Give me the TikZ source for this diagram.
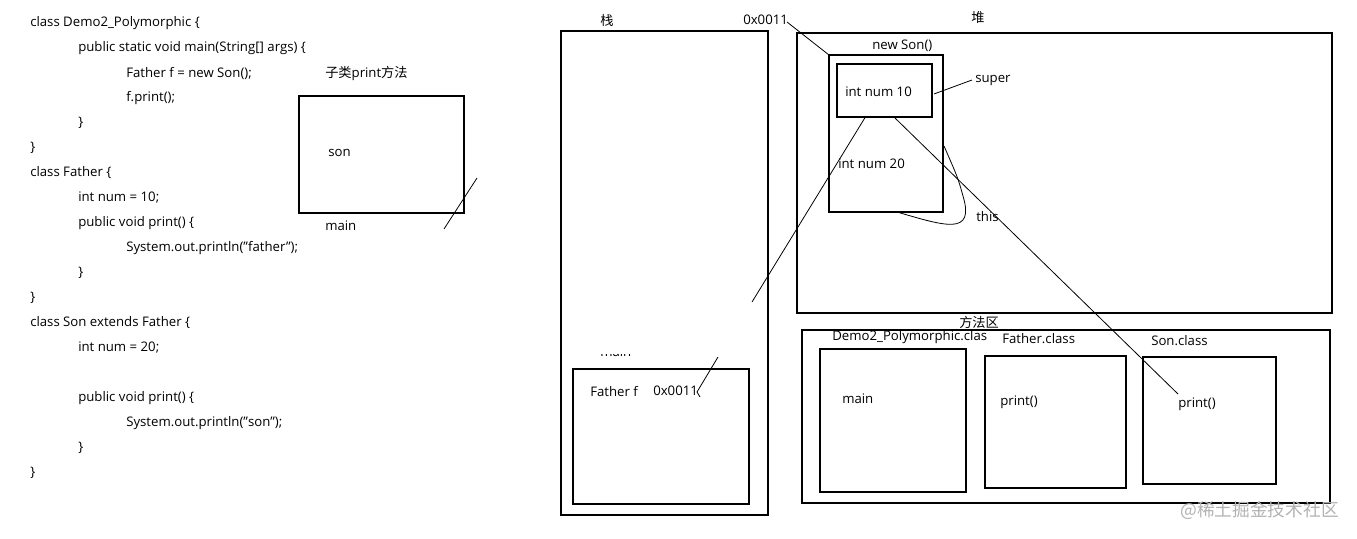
\documentclass[tikz,border=0pt]{standalone}
\usepackage{fontspec}
\setmainfont{Open Sans}[Ligatures=ResetAll]
\newfontfamily\cjk{Noto Sans CJK SC}
\begin{document}
\begin{tikzpicture}[x=0.75pt,y=-0.75pt,
  txt/.style={anchor=west,inner sep=0pt,font=\fontsize{9.9}{11}\selectfont},
  box/.style={draw,line width=0.8pt},
  wire/.style={draw,line width=0.6pt}]
\useasboundingbox (0,0) rectangle (1357,539);

% ---- code listing ----
\node[txt] (c1)  at (30,23)  {class Demo2\_Polymorphic \{};
\node[txt] (c2)  at (78,48)  {public static void main(String[] args) \{};
\node[txt] (c3)  at (126,73) {Father f = new Son();};
\node[txt] (c4)  at (126,98) {f.print();};
\node[txt] (c5)  at (78,123) {\}};
\node[txt] (c6)  at (30,148) {\}};
\node[txt] (c7)  at (30,173) {class Father \{};
\node[txt] (c8)  at (78,198) {int num = 10;};
\node[txt] (c9)  at (78,223) {public void print() \{};
\node[txt] (c10) at (126,248) {System.out.println("father");};
\node[txt] (c11) at (78,273) {\}};
\node[txt] (c12) at (30,298) {\}};
\node[txt] (c13) at (30,323) {class Son extends Father \{};
\node[txt] (c14) at (78,348) {int num = 20;};
\node[txt] (c15) at (78,398) {public void print() \{};
\node[txt] (c16) at (126,423) {System.out.println("son");};
\node[txt] (c17) at (78,448) {\}};
\node[txt] (c18) at (30,473) {\}};

% ---- small frame "son" ----
\coordinate (sA) at (299,96); \coordinate (sB) at (464,213);
\draw[box] (sA) rectangle (sB);
\node[txt] (sTitle) at (325,74) {{\cjk 子类}print{\cjk 方法}};
\node[txt] (sSon) at (328,153) {son};
\node[txt] (sMain) at (325,226) {main};
\coordinate (sl1) at (477,178); \coordinate (sl2) at (444,229);
\draw[wire] (sl1) -- (sl2);

% ---- stack ----
\coordinate (stA) at (561,31); \coordinate (stB) at (768,515);
\draw[box] (stA) rectangle (stB);
\node[txt] (stTitle) at (600,20) {\cjk 栈};
\begin{scope}
  \clip (590,354.6) rectangle (640,357);
  \node[txt,anchor=base west] (stMain) at (600,356) {main};
\end{scope}
\coordinate (fA) at (573,369); \coordinate (fB) at (749,504);
\draw[box] (fA) rectangle (fB);
\node[txt] (fText) at (590,392) {Father f};
\node[txt] (fAddr) at (653,391) {0x0011};
\coordinate (fl1) at (718,357); \coordinate (fl2) at (697,392); \coordinate (fl3) at (700,397);
\draw[wire] (fl1) -- (fl2) -- (fl3);

% ---- heap ----
\coordinate (hA) at (797,33); \coordinate (hB) at (1332,313);
\draw[box] (hA) rectangle (hB);
\node[txt] (hTitle) at (971,18) {\cjk 堆};
\node[txt] (hAddr) at (743,20) {0x0011};
\coordinate (nA) at (829,55); \coordinate (nB) at (943,212);
\draw[box] (nA) rectangle (nB);
\node[txt] (nTitle) at (872,46) {new Son()};
\coordinate (iA) at (837,64); \coordinate (iB) at (932,117);
\draw[box] (iA) rectangle (iB);
\node[txt] (i10) at (845,92) {int num 10};
\node[txt] (i20) at (838,164) {int num 20};
\node[txt] (sup) at (975,80) {super};
\node[txt] (this) at (976,217) {this};
\coordinate (a1) at (787,22);
\draw[wire] (a1) -- (nA);
\coordinate (su1) at (934,94); \coordinate (su2) at (972,80);
\draw[wire] (su1) -- (su2);
\coordinate (t1) at (897,212); \coordinate (t2) at (944,146);
\draw[wire] (t1) .. controls (945,226) and (975,236) .. (963,196) .. controls (958,178) .. (t2);
\coordinate (b1) at (866,116); \coordinate (b2) at (752,302);
\draw[wire] (b1) -- (b2);
\coordinate (l1) at (895,118); \coordinate (l2) at (1178,394);
\draw[wire] (l1) -- (l2);

% ---- method area ----
\node[txt] (mTitle) at (959,322) {\cjk 方法区};
\coordinate (mA) at (802,330); \coordinate (mB) at (1330,503);
\draw[box] (mA) rectangle (mB);
\coordinate (dA) at (820,349); \coordinate (dB) at (966,492);
\draw[box] (dA) rectangle (dB);
\node[txt] (dTitle) at (832,337) {Demo2\_Polymorphic.clas};
\node[txt] (dMain) at (842,399) {main};
\coordinate (faA) at (985,356); \coordinate (faB) at (1126,488);
\draw[box] (faA) rectangle (faB);
\node[txt] (faTitle) at (1002,339) {Father.class};
\node[txt] (faPrint) at (1000,402) {print()};
\coordinate (soA) at (1143,357); \coordinate (soB) at (1276,484);
\draw[box] (soA) rectangle (soB);
\node[txt] (soTitle) at (1151,341) {Son.class};
\node[txt] (soPrint) at (1178,404) {print()};

% ---- watermark ----
\node[txt,text=black!30,font=\cjk\fontsize{13.3}{15}\selectfont] (wm) at (1180,511) {@稀土掘金技术社区};
\end{tikzpicture}
\end{document}
